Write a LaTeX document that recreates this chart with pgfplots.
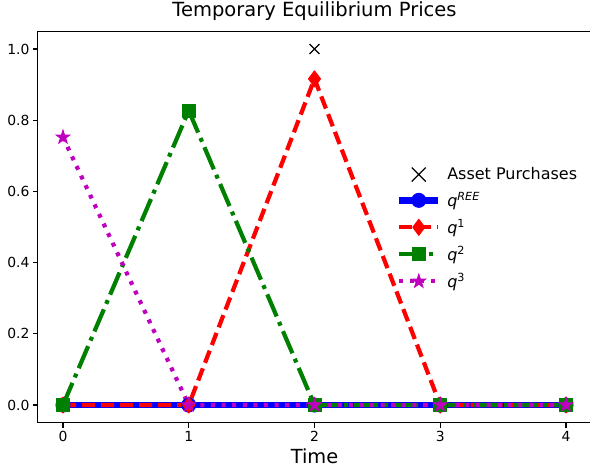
\documentclass[border=0pt]{standalone}
\usepackage{fontspec}
\setmainfont{DejaVu Sans}
\usepackage{pgfplots}
\pgfplotsset{compat=1.18}
\definecolor{mplgreen}{rgb}{0,0.5,0}
\definecolor{mplmag}{rgb}{0.75,0,0.75}
\pgfdeclareplotmark{fstar}{%
  \pgfpathmoveto{\pgfpointpolar{90}{\pgfplotmarksize}}%
  \pgfpathlineto{\pgfpointpolar{126}{0.382*\pgfplotmarksize}}%
  \pgfpathlineto{\pgfpointpolar{162}{\pgfplotmarksize}}%
  \pgfpathlineto{\pgfpointpolar{198}{0.382*\pgfplotmarksize}}%
  \pgfpathlineto{\pgfpointpolar{234}{\pgfplotmarksize}}%
  \pgfpathlineto{\pgfpointpolar{270}{0.382*\pgfplotmarksize}}%
  \pgfpathlineto{\pgfpointpolar{306}{\pgfplotmarksize}}%
  \pgfpathlineto{\pgfpointpolar{342}{0.382*\pgfplotmarksize}}%
  \pgfpathlineto{\pgfpointpolar{18}{\pgfplotmarksize}}%
  \pgfpathlineto{\pgfpointpolar{54}{0.382*\pgfplotmarksize}}%
  \pgfpathclose
  \pgfusepathqfillstroke
}
\pgfplotsset{
  mylegend/.style={legend image code/.code={\draw[mark repeat=2,mark phase=2,##1] plot coordinates {(0pt,0pt)(19.5pt,0pt)(39pt,0pt)}; \path[draw=none,fill=none] (0pt,0pt) -- (46pt,0pt);}},
  mymarklegend/.style={legend image code/.code={\path[draw=none,fill=none] (0pt,0pt) -- (46pt,0pt); \draw[black, line width=1.2pt, solid] (12.5pt,-7pt) -- (26.5pt,7pt) (12.5pt,7pt) -- (26.5pt,-7pt);}},
}
\begin{document}
\begin{tikzpicture}
\begin{axis}[
  name=ax,
  scale only axis,
  width=553.3pt, height=391.6pt,
  xmin=-0.2, xmax=4.2, ymin=-0.05, ymax=1.05,
  xtick={0,1,2,3,4},
  ytick={0,0.2,0.4,0.6,0.8,1.0},
  yticklabel style={/pgf/number format/.cd, fixed, fixed zerofill, precision=1},
  /pgf/number format/assume math mode=true,
  tick label style={font=\fontsize{13.9}{16}\selectfont, text=black},
  tick align=outside,
  xtick pos=bottom, ytick pos=left,
  major tick length=4.9pt,
  tick style={black, line width=1.1pt},
  axis line style={line width=1.1pt},
  title={Temporary Equilibrium Prices},
  title style={font=\fontsize{19.5}{22}\selectfont, yshift=1pt},
  xlabel={Time},
  xlabel style={font=\fontsize{19.4}{22}\selectfont},
  legend style={draw=none, fill=none, at={(0.647,0.657)}, anchor=north west,
    font=\fontsize{16}{18}\selectfont, inner sep=0pt, row sep=7pt},
  legend cell align=left,
]
\addplot[only marks, mark=x, mark size=7pt, black, line width=1.2pt, mymarklegend] coordinates {(2,1.0)};
\addlegendentry{Asset Purchases}
\addplot[blue, line width=6.5pt, mark=*, mark size=7pt, mark options={solid, line width=1pt}, mylegend] coordinates {(0,0) (1,0) (2,0) (3,0) (4,0)};
\addlegendentry{\textit{q}\textsuperscript{\textit{REE}}}
\addplot[red, line width=4.2pt, dash pattern=on 13pt off 6pt, line join=round, mark=diamond*, mark size=8pt, mark options={solid, line width=1pt}, mylegend] coordinates {(0,0) (1,0) (2,0.916) (3,0) (4,0)};
\addlegendentry{\textit{q}\textsuperscript{1}}
\addplot[mplgreen, line width=4.2pt, dash pattern=on 24pt off 6pt on 4pt off 6pt, line join=round, mark=square*, mark size=6.5pt, mark options={solid, line width=1pt}, mylegend] coordinates {(0,0) (1,0.827) (2,0) (3,0) (4,0)};
\addlegendentry{\textit{q}\textsuperscript{2}}
\addplot[mplmag, line width=4.2pt, dash pattern=on 4pt off 6.6pt, mark=fstar, mark size=7pt, mark options={solid, line width=1pt}, mylegend] coordinates {(0,0.752) (1,0) (2,0) (3,0) (4,0)};
\addlegendentry{\textit{q}\textsuperscript{3}}
\end{axis}
\pgfresetboundingbox
\path[use as bounding box] ([xshift=-37.85pt,yshift=-45.2pt]ax.south west) rectangle ([xshift=-1.15pt,yshift=31.2pt]ax.north east);
\end{tikzpicture}
\end{document}
